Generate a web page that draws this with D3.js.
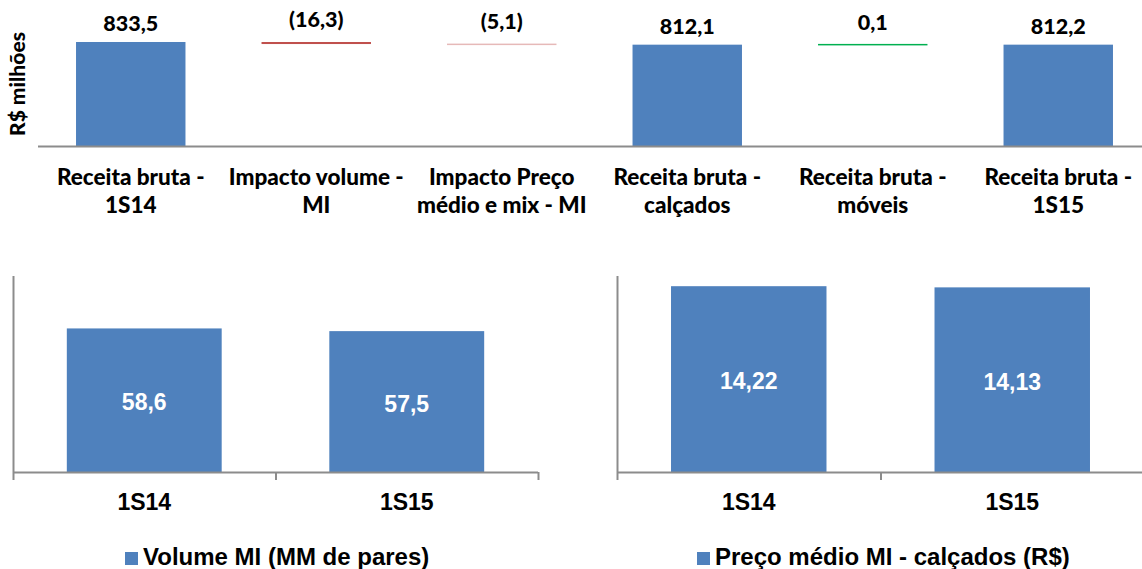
<!DOCTYPE html>
<html>
<head>
<meta charset="utf-8">
<script src="https://cdn.jsdelivr.net/npm/d3@7"></script>
<style>
  body { margin: 0; background: #fff; }
  svg { display: block; }
  .cal { font-family: Lato, "Open Sans", sans-serif; font-weight: 900; }
  .ari { font-family: "Liberation Sans", Arial, sans-serif; font-weight: bold; }
</style>
</head>
<body>
<svg width="1142" height="569"></svg>
<script>
// waterfall: receita bruta
const bridgeLabels = [
    ["Receita bruta -", "1S14"],
    ["Impacto volume -", "MI"],
    ["Impacto Preço", "médio e mix - MI"],
    ["Receita bruta -", "calçados"],
    ["Receita bruta -", "móveis"],
    ["Receita bruta -", "1S15"]
];
const bridgeValues = [833.5, -16.3, -5.1, 812.1, 0.1, 812.2];
const bridgeKinds  = ["total", "delta", "delta", "total", "delta", "total"];

// volume MI
const periods = ["1S14", "1S15"];
const volumeValues = [58.6, 57.5];
const volumeLegend = "Volume MI (MM de pares)";

// preço médio MI
const priceValues = [14.22, 14.13];
const priceLegend = "Preço médio MI - calçados (R$)";

const BLUE = "#4f81bd";
const AXIS = "#8c8c8c";

const pt = d3.formatLocale({decimal: ",", thousands: ".", grouping: [3], currency: ["R$", ""]});
const f1 = pt.format(".1f");
const f2 = pt.format(".2f");

const svg = d3.select("svg");

// ---------- top waterfall ----------
let running = 0;
const bridge = bridgeValues.map((v, i) => {
    let lo, hi, color;
    if (bridgeKinds[i] === "total") {
        lo = 0; hi = v; running = v; color = BLUE;
    } else {
        const start = running;
        running = Math.round((running + v) * 10) / 10;
        lo = Math.min(start, running); hi = Math.max(start, running);
        color = v < 0 ? (Math.abs(v) > 10 ? "#c0504d" : "#e6b9b8") : "#00b050";
    }
    return {i, v, lo, hi, color, kind: bridgeKinds[i], label: bridgeLabels[i]};
});

const xTop = d3.scaleBand()
    .domain(d3.range(bridge.length))
    .range([38, 1151])
    .paddingInner(0.41)
    .paddingOuter(0.205);
const yTop = d3.scaleLinear().domain([0, 900]).range([146, 33.7]);

const gTop = svg.append("g");

gTop.selectAll(".bar")
    .data(bridge)
    .enter()
    .append("rect")
    .attr("class", "bar")
    .attr("x", d => xTop(d.i))
    .attr("width", xTop.bandwidth())
    .attr("y", d => d.kind === "total" ? yTop(d.hi) : Math.min(yTop(d.hi), (yTop(d.hi) + yTop(d.lo)) / 2 - 0.75))
    .attr("height", d => d.kind === "total" ? yTop(d.lo) - yTop(d.hi) : Math.max(yTop(d.lo) - yTop(d.hi), 1.5))
    .attr("fill", d => d.color);

gTop.append("line")
    .attr("x1", 38).attr("x2", 1142)
    .attr("y1", yTop(0) + 0.5).attr("y2", yTop(0) + 0.5)
    .attr("stroke", AXIS).attr("stroke-width", 2);

gTop.selectAll(".val")
    .data(bridge)
    .enter()
    .append("text")
    .attr("class", "val cal")
    .attr("x", d => xTop(d.i) + xTop.bandwidth() / 2)
    .attr("y", d => d.kind === "total" ? yTop(d.hi) - 11 : yTop(d.hi) - 15)
    .attr("text-anchor", "middle")
    .attr("font-size", 21.5)
    .attr("fill", "#000")
    .text(d => d.v < 0 ? "(" + f1(-d.v) + ")" : f1(d.v));

const cats = gTop.selectAll(".cat")
    .data(bridge)
    .enter()
    .append("text")
    .attr("class", "cat cal")
    .attr("text-anchor", "middle")
    .attr("font-size", 22.5)
    .attr("fill", "#000");
cats.append("tspan")
    .attr("x", d => xTop(d.i) + xTop.bandwidth() / 2)
    .attr("y", 185)
    .text(d => d.label[0]);
cats.append("tspan")
    .attr("x", d => xTop(d.i) + xTop.bandwidth() / 2)
    .attr("y", 213)
    .text(d => d.label[1]);

gTop.append("text")
    .attr("class", "cal")
    .attr("transform", "translate(25,84) rotate(-90)")
    .attr("text-anchor", "middle")
    .attr("font-size", 21)
    .text("R$ milhões");

// ---------- bottom bar charts ----------
function smallChart(values, fmt, x0, x1, yMax, legendText, legendX) {
    const g = svg.append("g");
    const x = d3.scaleBand().domain(periods).range([x0, x1]).paddingInner(0.41).paddingOuter(0.205);
    const y = d3.scaleLinear().domain([0, yMax]).range([472, 276]);
    const data = periods.map((p, i) => ({p, v: values[i]}));

    g.selectAll("rect")
        .data(data)
        .enter()
        .append("rect")
        .attr("x", d => x(d.p))
        .attr("width", x.bandwidth())
        .attr("y", d => y(d.v))
        .attr("height", d => y(0) - y(d.v))
        .attr("fill", BLUE);

    g.selectAll(".inlbl")
        .data(data)
        .enter()
        .append("text")
        .attr("class", "inlbl ari")
        .attr("x", d => x(d.p) + x.bandwidth() / 2)
        .attr("y", d => (y(d.v) + y(0)) / 2 + 10)
        .attr("text-anchor", "middle")
        .attr("font-size", 23)
        .attr("fill", "#fff")
        .text(d => fmt(d.v));

    // y axis line (no ticks)
    g.append("line")
        .attr("x1", x0 + 0.5).attr("x2", x0 + 0.5)
        .attr("y1", y.range()[1]).attr("y2", y(0))
        .attr("stroke", AXIS).attr("stroke-width", 2);

    // x axis with ticks at category boundaries
    const xAxis = g.append("g")
        .attr("transform", `translate(0,${y(0) + 0.5})`)
        .call(d3.axisBottom(x).tickSize(0).tickFormat(""));
    xAxis.select(".domain").attr("stroke", AXIS).attr("stroke-width", 2)
        .attr("d", `M${x0},0H${x1}`);
    const step = x.step();
    g.selectAll(".sep")
        .data(d3.range(periods.length + 1))
        .enter()
        .append("line")
        .attr("x1", i => x0 + 0.5 + i * step).attr("x2", i => x0 + 0.5 + i * step)
        .attr("y1", y(0)).attr("y2", y(0) + 8)
        .attr("stroke", AXIS).attr("stroke-width", 2);

    g.selectAll(".xl")
        .data(data)
        .enter()
        .append("text")
        .attr("class", "xl ari")
        .attr("x", d => x(d.p) + x.bandwidth() / 2)
        .attr("y", 510)
        .attr("text-anchor", "middle")
        .attr("font-size", 23)
        .attr("fill", "#000")
        .text(d => d.p);

    // legend
    g.append("rect")
        .attr("x", legendX).attr("y", 552)
        .attr("width", 13).attr("height", 13)
        .attr("fill", BLUE);
    g.append("text")
        .attr("class", "ari")
        .attr("x", legendX + 18).attr("y", 565)
        .attr("font-size", 24)
        .attr("fill", "#000")
        .text(legendText);
}

smallChart(volumeValues, f1, 13, 538, 80, volumeLegend, 125);
smallChart(priceValues, f2, 617, 1144, 15, priceLegend, 697);
</script>
</body>
</html>
